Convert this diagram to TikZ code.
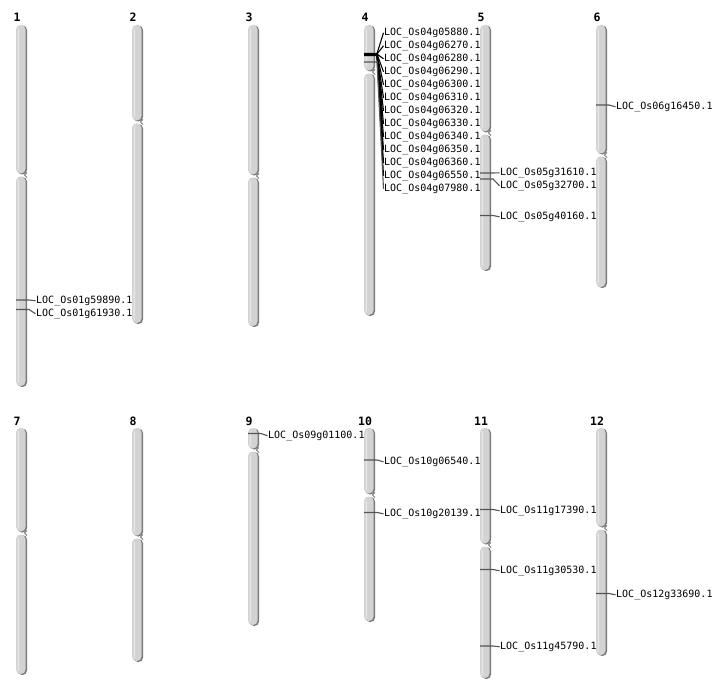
\documentclass[tikz,border=0pt]{standalone}
\usepackage{fontspec}
\setmonofont{DejaVu Sans Mono}
\definecolor{armc}{HTML}{D3D3D3}
\definecolor{shadc}{HTML}{7A7A7A}
\definecolor{hilc}{HTML}{E6E6E6}
\definecolor{mkc}{HTML}{555555}
\begin{document}
\begin{tikzpicture}[x=1pt,y=-1pt,
  lab/.style={anchor=west,inner sep=0.5pt,font=\ttfamily\fontsize{10}{10}\selectfont},
  num/.style={anchor=base,inner sep=0pt,font=\ttfamily\bfseries\fontsize{11.5}{12}\selectfont},
  mk/.style={draw=mkc,line width=1.1pt},
  mkb/.style={draw=black,line width=1.1pt}]
\useasboundingbox[fill=white] (0,0) rectangle (712,700);
% arm: left x, top y, bottom y
\newcommand\chrarm[3]{%
  \fill[shadc,rounded corners=4.5pt] (#1+1.5,#2+0.5) rectangle (#1+11,#3+1);
  \fill[armc,rounded corners=4.5pt] (#1,#2) rectangle (#1+9.5,#3);
  \fill[hilc,rounded corners=2pt] (#1+1.5,#2+3) rectangle (#1+3,#3-3);
}
% chromosome: name, left x, top, centromere, bottom, number baseline
\newcommand\chromo[6]{%
  \chrarm{#2}{#3}{#4-1.5}
  \chrarm{#2}{#4+1.5}{#5}
  \draw[shadc,line width=0.8pt] (#2+11,#4-2.5) -- (#2+8.5,#4) -- (#2+11,#4+2.5);
  \node[num] (#1) at (#2+1,#6) {\pgfmathparse{int(#1)}\pgfmathresult};
}
% marker: name, chrom left x, marker y, label y, text, style
\newcommand\mrk[6]{%
  \node[lab] (#1) at (#2+19.5,#4+1.8) {#5};
  \coordinate (#1m) at (#2,#3);
  \draw[#6] (#1m) -- ++(13,0) -- (#1.west);
}
\chromo{1}{16}{25}{175}{386}{22}
\chromo{2}{132}{25}{122}{323}{22}
\chromo{3}{248}{25}{176}{326}{22}
\chromo{4}{364}{25}{72}{315}{22}
\chromo{5}{480}{25}{133}{270}{22}
\chromo{6}{596}{25}{155}{287}{22}
\chromo{7}{16}{428}{533}{674}{425}
\chromo{8}{132}{428}{537}{661}{425}
\chromo{9}{248}{428}{450}{625}{425}
\chromo{10}{364}{428}{495}{621}{425}
\chromo{11}{480}{428}{545}{678}{425}
\chromo{12}{596}{428}{528}{655}{425}
% chr 1
\mrk{a1}{16}{300}{299}{LOC\_Os01g59890.1}{mk}
\mrk{a2}{16}{309.5}{312}{LOC\_Os01g61930.1}{mk}
% chr 4
\mrk{d1}{364}{53.5}{31}{LOC\_Os04g05880.1}{mkb}
\mrk{d2}{364}{54}{44}{LOC\_Os04g06270.1}{mkb}
\mrk{d3}{364}{54}{57}{LOC\_Os04g06280.1}{mkb}
\mrk{d4}{364}{54}{70}{LOC\_Os04g06290.1}{mkb}
\mrk{d5}{364}{54}{83}{LOC\_Os04g06300.1}{mkb}
\mrk{d6}{364}{54.5}{96}{LOC\_Os04g06310.1}{mkb}
\mrk{d7}{364}{54.5}{109}{LOC\_Os04g06320.1}{mkb}
\mrk{d8}{364}{54.5}{122}{LOC\_Os04g06330.1}{mkb}
\mrk{d9}{364}{54.5}{135}{LOC\_Os04g06340.1}{mkb}
\mrk{d10}{364}{55}{148}{LOC\_Os04g06350.1}{mkb}
\mrk{d11}{364}{55}{161}{LOC\_Os04g06360.1}{mkb}
\mrk{d12}{364}{55.5}{174}{LOC\_Os04g06550.1}{mkb}
\mrk{d13}{364}{62}{187}{LOC\_Os04g07980.1}{mk}
% chr 5
\mrk{e1}{480}{173}{171}{LOC\_Os05g31610.1}{mk}
\mrk{e2}{480}{179}{184}{LOC\_Os05g32700.1}{mk}
\mrk{e3}{480}{215.5}{215}{LOC\_Os05g40160.1}{mk}
% chr 6
\mrk{f1}{596}{105}{105}{LOC\_Os06g16450.1}{mk}
% chr 9
\mrk{i1}{248}{433.5}{434}{LOC\_Os09g01100.1}{mk}
% chr 10
\mrk{j1}{364}{460}{460}{LOC\_Os10g06540.1}{mk}
\mrk{j2}{364}{512.5}{512}{LOC\_Os10g20139.1}{mk}
% chr 11
\mrk{k1}{480}{509.5}{509}{LOC\_Os11g17390.1}{mk}
\mrk{k2}{480}{569.5}{569}{LOC\_Os11g30530.1}{mk}
\mrk{k3}{480}{646}{645}{LOC\_Os11g45790.1}{mk}
% chr 12
\mrk{l1}{596}{593.5}{593}{LOC\_Os12g33690.1}{mk}
\end{tikzpicture}
\end{document}
